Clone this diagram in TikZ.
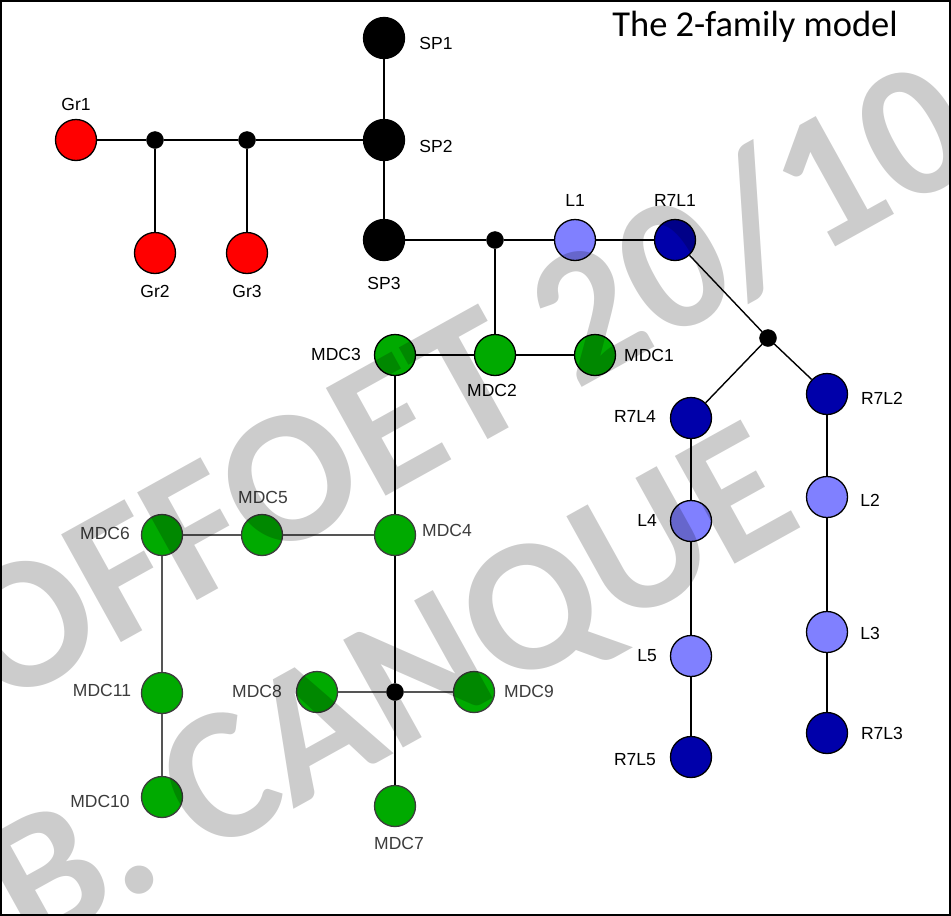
\documentclass[tikz,border=0pt]{standalone}
\usepackage{fontspec}
\setmainfont{Liberation Sans}
\newfontfamily\titlefont{Carlito}
\newfontfamily\stampfont{Carlito}
\definecolor{grred}{RGB}{255,0,0}
\definecolor{lblue}{RGB}{128,128,255}
\definecolor{dblue}{RGB}{0,0,170}
\definecolor{mgreen}{RGB}{0,170,0}
\definecolor{softline}{RGB}{85,85,85}
\definecolor{softtext}{RGB}{60,60,60}
\tikzset{
  vtx/.style={circle, draw=black, line width=1.3pt, minimum size=41pt, inner sep=0pt},
  softvtx/.style={vtx, draw=softtext},
  jn/.style={circle, fill=black, draw=black, minimum size=17pt, inner sep=0pt},
  lbl/.style={font=\fontsize{17.5}{20}\selectfont, text height=12.5pt, text depth=0pt, inner sep=0pt},
  softlbl/.style={lbl, text=softtext},
  wire/.style={line width=1.4pt, draw=black},
  softwire/.style={line width=1.4pt, draw=softline},
  stamp/.style={rotate=29, anchor=base west, inner sep=0pt, text=black, text opacity=0.2,
    font=\stampfont\bfseries\fontsize{190}{190}\selectfont}
}
\begin{document}
\begin{tikzpicture}[x=1pt, y=-1pt]
\useasboundingbox (0,0) rectangle (951,916);
\fill[white] (0,0) rectangle (951,916);

% ---- vertices ----
\node[vtx, fill=black] (SP1) at (384,38) {};
\node[vtx, fill=black] (SP2) at (384,140) {};
\node[vtx, fill=black] (SP3) at (384,240) {};
\node[vtx, fill=grred] (Gr1) at (76,140) {};
\node[jn] (ja) at (155,140) {};
\node[jn] (jb) at (247,140) {};
\node[vtx, fill=grred] (Gr2) at (155,253) {};
\node[vtx, fill=grred] (Gr3) at (247,253) {};

\node[jn] (jc) at (495,240) {};
\node[vtx, fill=lblue] (L1) at (575,240) {};
\node[vtx, fill=dblue] (R7L1) at (675,240) {};
\node[jn] (jd) at (768,338) {};

\node[vtx, fill=mgreen] (MDC3) at (395,355) {};
\node[vtx, fill=mgreen] (MDC2) at (495,355) {};
\node[vtx, fill=mgreen] (MDC1) at (595,355) {};

\node[vtx, fill=dblue] (R7L4) at (691,418) {};
\node[vtx, fill=lblue] (L4) at (691,521) {};
\node[vtx, fill=lblue] (L5) at (691,656) {};
\node[vtx, fill=dblue] (R7L5) at (691,757) {};
\node[vtx, fill=dblue] (R7L2) at (827,394) {};
\node[vtx, fill=lblue] (L2) at (827,497) {};
\node[vtx, fill=lblue] (L3) at (827,632) {};
\node[vtx, fill=dblue] (R7L3) at (827,733) {};

\node[softvtx, fill=mgreen] (MDC4) at (395,535) {};
\node[softvtx, fill=mgreen] (MDC5) at (262,535) {};
\node[softvtx, fill=mgreen] (MDC6) at (162,535) {};
\node[softvtx, fill=mgreen] (MDC11) at (162,693) {};
\node[softvtx, fill=mgreen] (MDC10) at (162,797) {};
\node[jn] (je) at (395,692) {};
\node[softvtx, fill=mgreen] (MDC8) at (317,692) {};
\node[softvtx, fill=mgreen] (MDC9) at (474,692) {};
\node[softvtx, fill=mgreen] (MDC7) at (395,806) {};

% ---- connectors ----
\draw[wire] (SP1) -- (SP2);
\draw[wire] (SP2) -- (SP3);
\draw[wire] (Gr1) -- (ja);
\draw[wire] (ja) -- (jb);
\draw[wire] (jb) -- (SP2);
\draw[wire] (ja) -- (Gr2);
\draw[wire] (jb) -- (Gr3);
\draw[wire] (SP3) -- (jc);
\draw[wire] (jc) -- (L1);
\draw[wire] (L1) -- (R7L1);
\draw[wire] (jc) -- (MDC2);
\draw[wire] (MDC3) -- (MDC2);
\draw[wire] (MDC2) -- (MDC1);
\draw[wire] (R7L1) -- (jd);
\draw[wire] (jd) -- (R7L4);
\draw[wire] (jd) -- (R7L2);
\draw[wire] (R7L4) -- (L4);
\draw[wire] (L4) -- (L5);
\draw[wire] (L5) -- (R7L5);
\draw[wire] (R7L2) -- (L2);
\draw[wire] (L2) -- (L3);
\draw[wire] (L3) -- (R7L3);
\draw[wire] (MDC3) -- (MDC4);
\draw[softwire] (MDC6) -- (MDC5);
\draw[softwire] (MDC5) -- (MDC4);
\draw[softwire] (MDC6) -- (MDC11);
\draw[softwire] (MDC11) -- (MDC10);
\draw[wire] (MDC4) -- (je);
\draw[wire] (je) -- (MDC7);
\draw[softwire] (MDC8) -- (je);
\draw[softwire] (je) -- (MDC9);

% ---- labels ----
\node[lbl] (tGr1) at (76,104) {Gr1};
\node[lbl] (tGr2) at (155,291) {Gr2};
\node[lbl] (tGr3) at (247,291) {Gr3};
\node[lbl] (tSP1) at (436,43) {SP1};
\node[lbl] (tSP2) at (436,146) {SP2};
\node[lbl] (tSP3) at (384,283) {SP3};
\node[lbl] (tL1) at (575,200) {L1};
\node[lbl] (tR7L1) at (675,200) {R7L1};
\node[lbl] (tMDC3) at (336,354) {MDC3};
\node[lbl] (tMDC2) at (492,390) {MDC2};
\node[lbl] (tMDC1) at (649,355) {MDC1};
\node[lbl] (tR7L4) at (635,416) {R7L4};
\node[lbl] (tL4) at (647,520) {L4};
\node[lbl] (tL5) at (647,655) {L5};
\node[lbl] (tR7L5) at (635,759) {R7L5};
\node[lbl] (tR7L2) at (882,398) {R7L2};
\node[lbl] (tL2) at (870,500) {L2};
\node[lbl] (tL3) at (870,633) {L3};
\node[lbl] (tR7L3) at (882,733) {R7L3};
\node[softlbl] (tMDC4) at (447,530) {MDC4};
\node[softlbl] (tMDC5) at (263,497) {MDC5};
\node[softlbl] (tMDC6) at (105,533) {MDC6};
\node[softlbl] (tMDC11) at (102,690) {MDC11};
\node[softlbl] (tMDC10) at (100,801) {MDC10};
\node[softlbl] (tMDC8) at (257,691) {MDC8};
\node[softlbl] (tMDC9) at (529,691) {MDC9};
\node[softlbl] (tMDC7) at (399,843) {MDC7};

% ---- title ----
\node[anchor=base east, inner sep=0pt, font=\titlefont\fontsize{36.5}{40}\selectfont] (title) at (898,36) {The 2-family model};

% ---- stamp ----
\node[stamp] (stampA) at (0,710) {OFFOET 20/10};
\node[stamp] (stampB) at (30,955) {B. CANQUE};

% ---- frame ----
\draw[line width=2pt] (1,1) rectangle (950,915);
\end{tikzpicture}
\end{document}
